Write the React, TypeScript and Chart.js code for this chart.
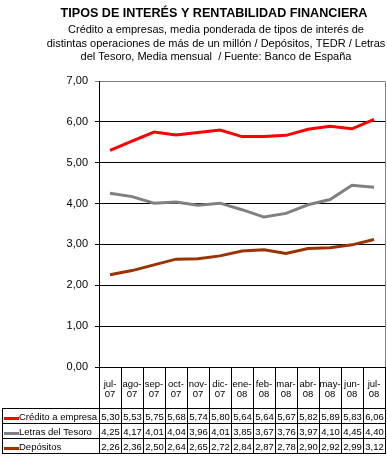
import React, { useEffect, useRef } from 'react';
import { Chart, registerables } from 'chart.js';

Chart.register(...registerables);

const months = ['jul-07', 'ago-07', 'sep-07', 'oct-07', 'nov-07', 'dic-07', 'ene-08', 'feb-08', 'mar-08', 'abr-08', 'may-08', 'jun-08', 'jul-08'];
const creditoEmpresa = [5.30, 5.53, 5.75, 5.68, 5.74, 5.80, 5.64, 5.64, 5.67, 5.82, 5.89, 5.83, 6.06];
const letrasTesoro = [4.25, 4.17, 4.01, 4.04, 3.96, 4.01, 3.85, 3.67, 3.76, 3.97, 4.10, 4.45, 4.40];
const depositos = [2.26, 2.36, 2.50, 2.64, 2.65, 2.72, 2.84, 2.87, 2.78, 2.90, 2.92, 2.99, 3.12];
const seriesNames = ['Crédito a empresa', 'Letras del Tesoro', 'Depósitos'];
const seriesColors = ['#FF0000', '#808080', '#993300'];
const yMin = 0;
const yMax = 7;
const yStep = 1;
const titleText = 'TIPOS DE INTERÉS Y RENTABILIDAD FINANCIERA';
const subtitleLines = [
  'Crédito a empresas, media ponderada de tipos de interés de',
  'distintas operaciones de más de un millón / Depósitos, TEDR / Letras',
  'del Tesoro, Media mensual  / Fuente: Banco de España',
];

const FONT = '"Liberation Sans", Arial, sans-serif';
const fmt = (v: number) => v.toFixed(2).replace('.', ',');

const tablePlugin = {
  id: 'tablePlugin',
  afterDraw(chart: any) {
    const ctx = chart.ctx as CanvasRenderingContext2D;
    const area = chart.chartArea;
    const n = months.length;
    const colW = (area.right - area.left) / n;
    const seriesData = [creditoEmpresa, letrasTesoro, depositos];

    ctx.save();
    // Titles
    ctx.fillStyle = '#000';
    ctx.textAlign = 'center';
    ctx.textBaseline = 'alphabetic';
    ctx.font = `bold 12.6px ${FONT}`;
    ctx.fillText(titleText, 214, 17);
    ctx.font = `11px ${FONT}`;
    const subY = [33, 47, 60];
    subtitleLines.forEach((l, i) => ctx.fillText(l, 216, subY[i]));

    // Plot area right border (gray)
    ctx.strokeStyle = '#808080';
    ctx.lineWidth = 1;
    ctx.beginPath();
    ctx.moveTo(Math.round(area.right) + 0.5, Math.round(area.top) + 0.5);
    ctx.lineTo(Math.round(area.right) + 0.5, Math.round(area.bottom));
    ctx.stroke();

    // Table
    const top = Math.round(area.bottom);
    const rowTops = [408, 423, 438, 453];
    const tableLeft = 2;
    const right = Math.round(area.right);
    ctx.strokeStyle = '#000';
    ctx.beginPath();
    for (let i = 0; i <= n; i++) {
      const x = Math.round(area.left + i * colW) + 0.5;
      ctx.moveTo(x, top);
      ctx.lineTo(x, rowTops[3] + 1);
    }
    ctx.moveTo(tableLeft + 0.5, rowTops[0]);
    ctx.lineTo(tableLeft + 0.5, rowTops[3] + 1);
    rowTops.forEach((y) => {
      ctx.moveTo(tableLeft, y + 0.5);
      ctx.lineTo(right + 1, y + 0.5);
    });
    ctx.stroke();

    // Category labels
    ctx.font = `9.5px ${FONT}`;
    ctx.textAlign = 'center';
    months.forEach((m, i) => {
      const cx = area.left + (i + 0.5) * colW;
      const [a, b] = m.split('-');
      ctx.fillText(a + '-', cx, 387);
      ctx.fillText(b, cx, 397);
    });

    // Rows
    seriesData.forEach((data, r) => {
      const rt = rowTops[r];
      ctx.fillStyle = seriesColors[r];
      ctx.fillRect(4, rt + 9, 15, 3);
      ctx.fillStyle = '#000';
      ctx.textAlign = 'left';
      ctx.fillText(seriesNames[r], 19, rt + 12);
      ctx.textAlign = 'center';
      data.forEach((v, i) => {
        const cx = area.left + (i + 0.5) * colW;
        ctx.fillText(fmt(v), cx + 0.5, rt + 12);
      });
    });
    ctx.restore();
  },
};

export default function App() {
  const ref = useRef<HTMLCanvasElement>(null);
  useEffect(() => {
    if (!ref.current) return;
    Chart.defaults.font.family = FONT;
    const chart = new Chart(ref.current, {
      type: 'line',
      data: {
        labels: months,
        datasets: [creditoEmpresa, letrasTesoro, depositos].map((d, i) => ({
          label: seriesNames[i],
          data: d,
          borderColor: seriesColors[i],
          backgroundColor: seriesColors[i],
          borderWidth: 3,
          pointRadius: 0,
          tension: 0,
          fill: false,
        })),
      },
      options: {
        responsive: false,
        animation: false,
        events: [],
        layout: { padding: { left: 0, top: 81, right: 2, bottom: 89 } },
        plugins: { legend: { display: false }, title: { display: false }, tooltip: { enabled: false } },
        scales: {
          x: { type: 'category', display: false, offset: true, grid: { display: false } },
          y: {
            min: yMin,
            max: yMax,
            afterFit: (s: any) => { s.width = 99; },
            ticks: {
              stepSize: yStep,
              color: '#000',
              padding: 7,
              font: { size: 11, family: FONT },
              callback: (v: any) => fmt(Number(v)),
            },
            grid: {
              color: (c: any) => (c.tick && c.tick.value === yMax ? '#808080' : '#000000'),
              tickColor: (c: any) => (c.tick && c.tick.value === yMax ? '#808080' : '#000000'),
              tickLength: 4,
              lineWidth: 1,
            },
            border: { display: true, color: '#000', width: 1 },
          },
        },
      },
      plugins: [tablePlugin],
    });
    return () => chart.destroy();
  }, []);
  return (
    <div style={{ position: 'absolute', left: 0, top: 0, width: 387, height: 456, background: '#fff' }}>
      <canvas ref={ref} width={387} height={456} />
    </div>
  );
}
